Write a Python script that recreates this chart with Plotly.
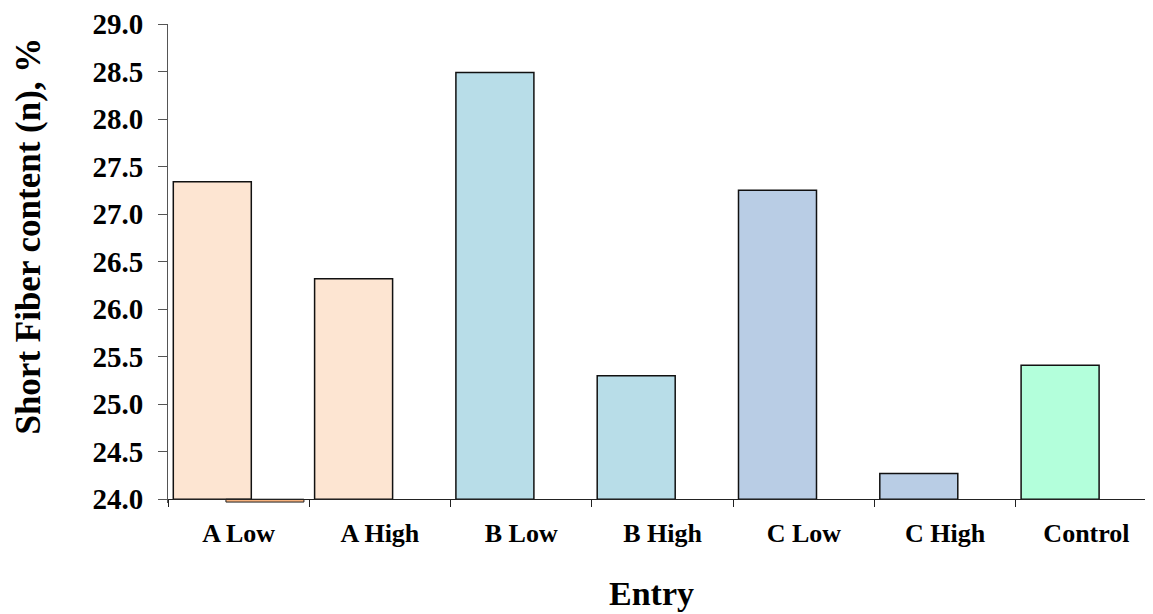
import plotly.graph_objects as go

categories = ["A Low", "A High", "B Low", "B High", "C Low", "C High", "Control"]
values = [27.34, 26.32, 28.49, 25.30, 27.25, 24.27, 25.41]
bar_colors = ["#FDE5D2", "#FDE5D2", "#B8DDE8", "#B8DDE8", "#B9CDE5", "#B9CDE5", "#B3FFDB"]
# second (nearly empty) series: only A Low has a value, lying just below the axis minimum
second_values = [23.97, None, None, None, None, None, None]
y_ticks = [24.0, 24.5, 25.0, 25.5, 26.0, 26.5, 27.0, 27.5, 28.0, 28.5, 29.0]

axis_min = 24.0
axis_max = 29.0
range_min = 23.96

# page body has an 8px default margin; compensate so the chart lands on the window
OFF = 8
W, H = 1153 - OFF, 614 - OFF
ml, mt = 168 - OFF, 24 - OFF
plot_w = W - ml            # right margin 0
plot_bottom = 502.8 - OFF
mb = H - plot_bottom
plot_h = plot_bottom - mt
cat_px = 141.3
x_max = -0.5 + plot_w / cat_px

def px_to_paper_x(px):
    return (px - OFF - ml) / plot_w

def px_to_paper_y(py):
    return (plot_bottom - (py - OFF)) / plot_h

xs = list(range(len(categories)))

fig = go.Figure()
fig.add_trace(go.Bar(
    x=xs,
    y=[v - axis_min for v in values],
    base=axis_min,
    offset=-0.4625,
    width=0.552,
    marker=dict(color=bar_colors, line=dict(color="#111111", width=1.5)),
    showlegend=False,
))
sx = [x for x, v in zip(xs, second_values) if v is not None]
sy = [v - axis_min for v in second_values if v is not None]
fig.add_trace(go.Bar(
    x=sx,
    y=sy,
    base=axis_min,
    offset=-0.09,
    width=0.552,
    marker=dict(color="#F8B27E", line=dict(color="#222222", width=1)),
    showlegend=False,
))

font_family = "Liberation Serif"

fig.update_layout(
    width=W, height=H,
    margin=dict(l=ml, r=0, t=mt, b=mb, pad=0),
    paper_bgcolor="white",
    plot_bgcolor="white",
    barmode="overlay",
    font=dict(family=font_family, color="black"),
    xaxis=dict(
        range=[-0.5, x_max],
        tickmode="array",
        tickvals=xs,
        ticktext=["<b>%s</b>" % c for c in categories],
        ticks="",
        tickfont=dict(family=font_family, size=26, color="black"),
        showline=True, linecolor="#222222", linewidth=1,
        showgrid=False, zeroline=False,
        anchor="free",
        position=(axis_min - range_min) / (axis_max - range_min),
        ticklabelstandoff=11,
        minor=dict(tick0=-0.5, dtick=1, ticks="outside", ticklen=7,
                   tickcolor="#222222", tickwidth=1, showgrid=False),
    ),
    yaxis=dict(
        range=[range_min, axis_max],
        tickmode="array",
        tickvals=y_ticks,
        ticktext=["<b>%.1f</b>" % t for t in y_ticks],
        ticks="outside", ticklen=9, tickcolor="#555555", tickwidth=1,
        tickfont=dict(family=font_family, size=29, color="black"),
        showline=True, linecolor="#555555", linewidth=1,
        showgrid=False, zeroline=False,
        ticklabelstandoff=9,
    ),
    annotations=[
        dict(text="<b>Short Fiber content (n), %</b>", textangle=-90,
             x=px_to_paper_x(29), y=px_to_paper_y(236.5), xref="paper", yref="paper",
             xanchor="center", yanchor="middle", showarrow=False,
             font=dict(family=font_family, size=35, color="black")),
        dict(text="<b>Entry</b>",
             x=px_to_paper_x(651.5), y=px_to_paper_y(593), xref="paper", yref="paper",
             xanchor="center", yanchor="middle", showarrow=False,
             font=dict(family=font_family, size=34, color="black")),
    ],
)

fig.write_html("out.html")
